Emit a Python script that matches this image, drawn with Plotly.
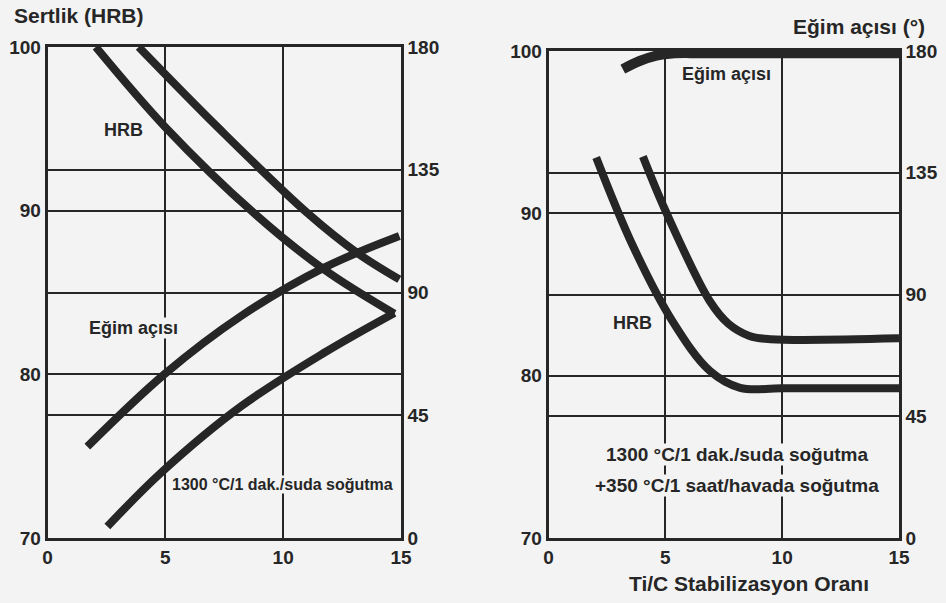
import plotly.graph_objects as go

W, H = 946, 603
BG = "#f3f3f3"
INK = "#262626"
FONT = "Liberation Sans, Arial, sans-serif"

# ---- data (left panel: 1300 °C/1 dak./suda soğutma) ----
hrb_a_x = [2.05, 5.0, 8.77, 11.74, 14.72]
hrb_a_y = [100, 95.1, 89.84, 86.4, 83.7]
hrb_b_x = [3.87, 7.22, 11.04, 13.16, 14.93]
hrb_b_y = [100, 95.1, 89.84, 87.4, 85.8]
egim_c_x = [1.69, 4.94, 8.2, 11.74, 14.93]
egim_c_y = [33.5, 59.9, 81.3, 99.1, 110.7]
egim_d_x = [2.54, 4.8, 8.2, 11.74, 14.72]
egim_d_y = [4.2, 23.8, 48.2, 67.9, 82.5]

# ---- data (right panel: +350 °C/1 saat/havada soğutma) ----
egim_r_x = [3.18, 3.9, 4.62, 5.3, 6.5, 10.0, 15.0]
egim_r_y = [173.3, 176.3, 178.3, 179.1, 179.2, 179.2, 179.2]
hrb_e_x = [2.04, 3.61, 5.33, 6.9, 8.2, 10.0, 15.0]
hrb_e_y = [93.44, 88.0, 83.3, 80.3, 79.25, 79.22, 79.22]
hrb_f_x = [4.04, 5.04, 6.9, 7.7, 8.6, 9.5, 15.0]
hrb_f_y = [93.5, 90.05, 84.6, 83.2, 82.45, 82.25, 82.3]

x_ticks = [0, 5, 10, 15]
hrb_ticks = [70, 80, 90, 100]
egim_ticks = [0, 45, 90, 135, 180]


def px(x):
    return x / W


def py(y):
    return 1 - y / H


fig = go.Figure()


def add(xs, ys, xa, ya, width=8):
    fig.add_trace(go.Scatter(x=xs, y=ys, mode="lines",
                             line=dict(color=INK, width=width, shape="spline", smoothing=1.0),
                             xaxis=xa, yaxis=ya, showlegend=False,
                             hoverinfo="skip"))


add(hrb_a_x, hrb_a_y, "x", "y")
add(hrb_b_x, hrb_b_y, "x", "y")
add(egim_c_x, egim_c_y, "x", "y2")
add(egim_d_x, egim_d_y, "x", "y2")
add(hrb_e_x, hrb_e_y, "x2", "y3")
add(hrb_f_x, hrb_f_y, "x2", "y3")
add(egim_r_x, egim_r_y, "x2", "y4", width=10)

tickfont = dict(family=FONT, size=19, color=INK, weight="bold")
common = dict(showgrid=True, gridcolor=INK, gridwidth=2, showline=True,
              linecolor=INK, linewidth=2.5, zeroline=False, ticks="",
              tickfont=tickfont, fixedrange=True, automargin=False)

fig.update_layout(
    width=W, height=H,
    margin=dict(l=0, r=0, t=0, b=0, pad=0),
    paper_bgcolor=BG, plot_bgcolor=BG,
    xaxis=dict(domain=[px(47.5), px(401)], range=[0, 15], tickvals=x_ticks,
               anchor="y", mirror=True, **common),
    yaxis=dict(domain=[py(538), py(47)], range=[70, 100], tickvals=hrb_ticks,
               anchor="x", side="left", mirror=True, **common),
    yaxis2=dict(range=[0, 180], tickvals=egim_ticks, overlaying="y",
                anchor="x", side="right", **common),
    xaxis2=dict(domain=[px(548.5), px(899)], range=[0, 15], tickvals=x_ticks,
                anchor="y3", mirror=True, **common),
    yaxis3=dict(domain=[py(538), py(51)], range=[70, 100], tickvals=hrb_ticks,
                anchor="x2", side="left", mirror=True, **common),
    yaxis4=dict(range=[0, 180], tickvals=egim_ticks, overlaying="y3",
                anchor="x2", side="right", **common),
)


def note(text, x, y, size, xanchor="center", bg=None):
    kw = dict(text=text, x=px(x), y=py(y), xref="paper", yref="paper",
              xanchor=xanchor, yanchor="middle", showarrow=False,
              font=dict(family=FONT, size=size, color=INK, weight="bold"))
    if bg:
        kw.update(bgcolor=bg, borderpad=0)
    fig.add_annotation(**kw)


note("Sertlik (HRB)", 12, 16, 21, xanchor="left")
note("Eğim açısı (°)", 927, 26, 21, xanchor="right")
note("HRB", 123, 130, 18)
note("Eğim açısı", 133, 328, 18, bg=BG)
note("1300 °C/1 dak./suda soğutma", 282, 484, 16, bg=BG)
note("Eğim açısı", 726, 74, 18)
note("HRB", 632, 323, 18)
note("1300 °C/1 dak./suda soğutma", 737, 454, 19, bg=BG)
note("+350 °C/1 saat/havada soğutma", 737, 485, 19, bg=BG)
note("Ti/C Stabilizasyon Oranı", 749, 583, 21)

fig.write_html("out.html", config={"displayModeBar": False},
               post_script="document.body.style.margin='0';")
